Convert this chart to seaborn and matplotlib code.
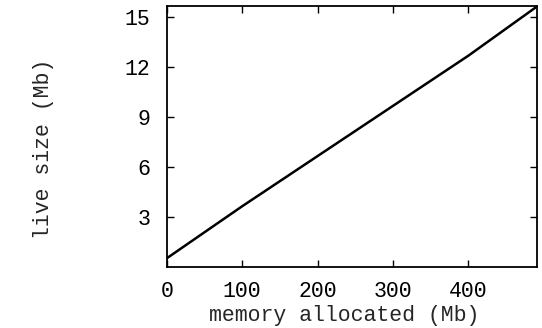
import matplotlib
matplotlib.use("Agg")
import matplotlib.pyplot as plt
import seaborn as sns
import pandas as pd

# Data
memory_allocated = [0, 100, 200, 300, 400, 491]
live_size = [0.5, 3.62, 6.63, 9.64, 12.65, 15.6]
x_ticks = [0, 100, 200, 300, 400]
y_ticks = [3, 6, 9, 12, 15]

df = pd.DataFrame({"memory allocated (Mb)": memory_allocated,
                   "live size (Mb)": live_size})

sns.set_style("ticks")
plt.rcParams["font.family"] = ["Liberation Mono", "DejaVu Sans Mono"]

fig = plt.figure(figsize=(5.42, 3.28), dpi=100)
ax = fig.add_axes([0.3076, 0.187, 0.6837, 0.7956])

sns.lineplot(data=df, x="memory allocated (Mb)", y="live size (Mb)",
             ax=ax, color="black", linewidth=1.8)

ax.set_xlim(0, 491.5)
ax.set_ylim(0, 15.65)
ax.set_xticks(x_ticks)
ax.set_yticks(y_ticks)
ax.tick_params(direction="in", length=5, width=1, top=True, right=True,
               labelsize=15.5, colors="black")
ax.tick_params(axis="x", pad=10)
ax.tick_params(axis="y", pad=12)
for s in ax.spines.values():
    s.set_visible(True)
    s.set_linewidth(1.3)
    s.set_color("black")

ax.set_xlabel("memory allocated (Mb)", fontsize=15.5)
ax.set_ylabel("live size (Mb)", fontsize=15.5)
ax.xaxis.set_label_coords(0.478, -0.148)
ax.yaxis.set_label_coords(-0.305, 0.45)

fig.savefig("out.png", dpi=100)
